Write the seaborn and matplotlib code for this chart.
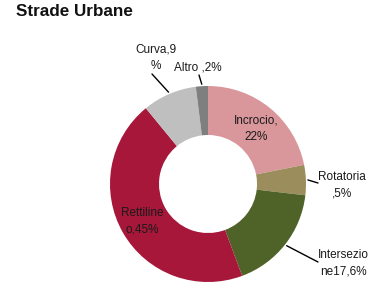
import numpy as np
import matplotlib
matplotlib.use("Agg")
import matplotlib.pyplot as plt
import seaborn as sns

categories = ["Incrocio", "Rotatoria", "Intersezione", "Rettilineo", "Curva", "Altro"]
values = [22, 5, 17.6, 45, 9, 2]
labels = ["Incrocio,\n22%", "Rotatoria\n,5%", "Intersezio\nne17,6%", "Rettiline\no,45%", "Curva,9\n%", "Altro ,2%"]
colors = ["#D9979B", "#9C8D5C", "#4F6328", "#A6173A", "#BFBFBF", "#7F7F7F"]

sns.set_theme(style="white")
plt.rcParams['font.family'] = ['Liberation Sans', 'DejaVu Sans']

W, H = 377, 293
fig = plt.figure(figsize=(W / 100, H / 100), dpi=100)
ax = fig.add_axes([0, 0, 1, 1])

cx, cy, R = 208, 184, 98  # pixel centre and radius


def px(x, y):
    return (x - cx) / R, (cy - y) / R


wedges, _ = ax.pie(values, colors=colors, startangle=90, counterclock=False,
                   radius=1.0, wedgeprops=dict(width=0.5, edgecolor="none"))
ax.set_xlim(-cx / R, (W - cx) / R)
ax.set_ylim(-(H - cy) / R, cy / R)
ax.set_aspect("auto")
ax.axis("off")

fs = 8.5
ls = 1.45
# inside labels
inside = {0: (256, 129), 3: (142, 221)}
for i, (x, y) in inside.items():
    tx, ty = px(x, y)
    ax.text(tx, ty, labels[i], ha="center", va="center", fontsize=fs,
            color="#1a1a1a", linespacing=ls)

# outside labels with leader lines
outside = {1: ((342, 185), (318, 183)),
           2: ((343, 263), (318, 262)),
           4: ((156, 58), (152, 74)),
           5: ((198, 68), (199, 75))}
for i, ((x, y), (ex, ey)) in outside.items():
    w = wedges[i]
    ang = np.deg2rad((w.theta1 + w.theta2) / 2)
    sx, sy = 1.02 * np.cos(ang), 1.02 * np.sin(ang)
    exd, eyd = px(ex, ey)
    ax.plot([sx, exd], [sy, eyd], color="black", lw=1.0)
    tx, ty = px(x, y)
    ax.text(tx, ty, labels[i], ha="center", va="center", fontsize=fs,
            color="#1a1a1a", linespacing=ls)

fig.text(16 / W, 1 - 11 / H, "Strade Urbane", ha="left", va="center",
         fontsize=12.3, fontweight="bold", family=["Liberation Sans", "DejaVu Sans"],
         color="#111111")

fig.savefig("out.png", dpi=100)
